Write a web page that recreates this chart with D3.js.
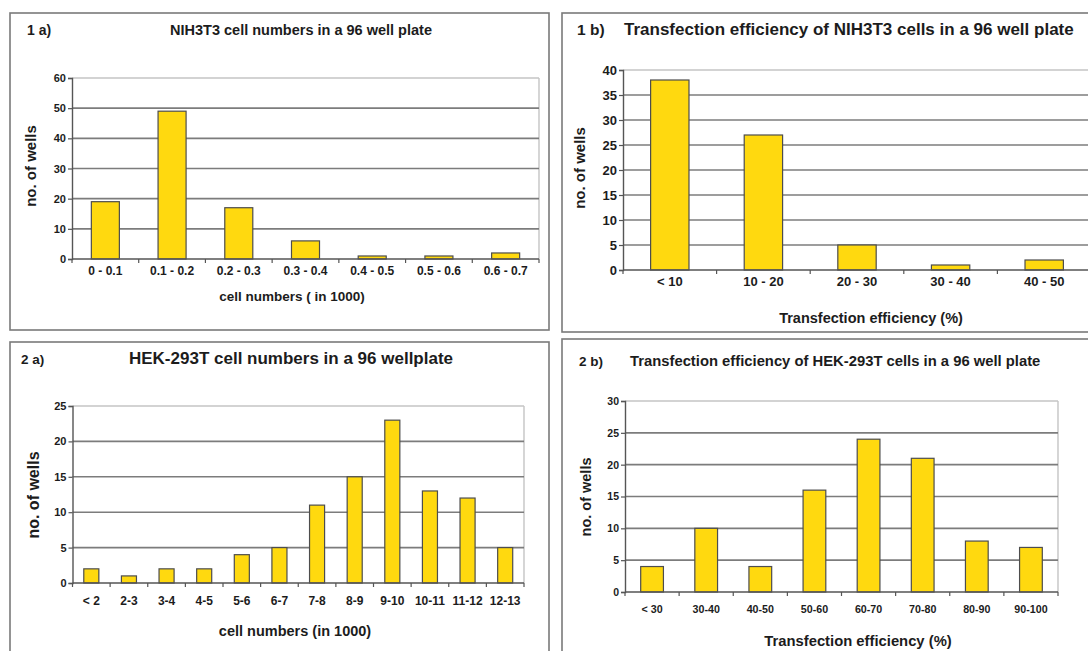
<!DOCTYPE html>
<html>
<head>
<meta charset="utf-8">
<script src="https://cdn.jsdelivr.net/npm/d3@7"></script>
<style>
  html, body { margin: 0; padding: 0; background: #fff; }
  svg { display: block; }
  text { font-family: "Liberation Sans", Arial, sans-serif; font-weight: bold; fill: #1c1c1c; }
</style>
</head>
<body>
<svg id="chart" width="1088" height="651"></svg>
<script>
// Panel 1a: NIH3T3 cell counts per well
const nihCountBins = ["0 - 0.1", "0.1 - 0.2", "0.2 - 0.3", "0.3 - 0.4", "0.4 - 0.5", "0.5 - 0.6", "0.6 - 0.7"];
const nihCountWells = [19, 49, 17, 6, 1, 1, 2];
const nihCountTicks = [0, 10, 20, 30, 40, 50, 60];

// Panel 1b: NIH3T3 transfection efficiency
const nihEffBins = ["< 10", "10 - 20", "20 - 30", "30 - 40", "40 - 50"];
const nihEffWells = [38, 27, 5, 1, 2];
const nihEffTicks = [0, 5, 10, 15, 20, 25, 30, 35, 40];

// Panel 2a: HEK-293T cell counts per well
const hekCountBins = ["< 2", "2-3", "3-4", "4-5", "5-6", "6-7", "7-8", "8-9", "9-10", "10-11", "11-12", "12-13"];
const hekCountWells = [2, 1, 2, 2, 4, 5, 11, 15, 23, 13, 12, 5];
const hekCountTicks = [0, 5, 10, 15, 20, 25];

// Panel 2b: HEK-293T transfection efficiency
const hekEffBins = ["< 30", "30-40", "40-50", "50-60", "60-70", "70-80", "80-90", "90-100"];
const hekEffWells = [4, 10, 4, 16, 24, 21, 8, 7];
const hekEffTicks = [0, 5, 10, 15, 20, 25, 30];

const svg = d3.select("#chart");

function drawPanel(p) {
  const g = svg.append("g");

  // panel frame
  g.append("rect")
    .attr("x", p.frame[0]).attr("y", p.frame[1])
    .attr("width", p.frame[2]).attr("height", p.frame[3])
    .attr("fill", "none").attr("stroke", "#7a7a7a").attr("stroke-width", 1.6);

  const x = d3.scaleBand().domain(p.bins).range([p.plot.l, p.plot.r]).padding(0);
  const yMax = p.ticks[p.ticks.length - 1];
  const y = d3.scaleLinear().domain([0, yMax]).range([p.plot.b, p.plot.t]);

  // plot area right border
  g.append("line")
    .attr("x1", p.plot.r).attr("x2", p.plot.r)
    .attr("y1", p.plot.t).attr("y2", p.plot.b)
    .attr("stroke", "#c4c4c4").attr("stroke-width", 1.4);

  // horizontal gridlines
  g.selectAll(".grid").data(p.ticks.filter(t => t > 0)).join("line")
    .attr("x1", p.plot.l).attr("x2", p.plot.r)
    .attr("y1", d => y(d)).attr("y2", d => y(d))
    .attr("stroke", d => d === yMax ? "#c4c4c4" : "#7c7c7c")
    .attr("stroke-width", 1.6);

  // bars
  const bw = x.bandwidth() * p.barRatio;
  g.selectAll(".bar").data(p.values).join("rect")
    .attr("x", (d, i) => x(p.bins[i]) + (x.bandwidth() - bw) / 2)
    .attr("y", d => y(d))
    .attr("width", bw)
    .attr("height", d => y(0) - y(d))
    .attr("fill", "#ffd90f")
    .attr("stroke", "#4d4d4d")
    .attr("stroke-width", 1.2);

  // y axis
  const yAxis = d3.axisLeft(y).tickValues(p.ticks).tickSize(4).tickPadding(2).tickFormat(d3.format("d"));
  const ya = g.append("g").attr("transform", `translate(${p.plot.l},0)`).call(yAxis);
  ya.select(".domain").attr("stroke", "#555").attr("stroke-width", 1.4);
  ya.selectAll(".tick line").attr("stroke", "#555").attr("stroke-width", 1.2);
  ya.selectAll(".tick text").style("font-size", p.yFont + "px").attr("fill", "#1c1c1c");

  // x axis: line along zero with ticks between categories
  g.append("line")
    .attr("x1", p.plot.l).attr("x2", p.plot.r)
    .attr("y1", y(0)).attr("y2", y(0))
    .attr("stroke", "#555").attr("stroke-width", 1.4);
  const bounds = p.bins.map(b => x(b)).concat([p.plot.r]);
  g.selectAll(".xt").data(bounds).join("line")
    .attr("x1", d => d).attr("x2", d => d)
    .attr("y1", y(0)).attr("y2", y(0) + 4)
    .attr("stroke", "#555").attr("stroke-width", 1.2);
  g.selectAll(".xl").data(p.bins).join("text")
    .attr("x", d => x(d) + x.bandwidth() / 2)
    .attr("y", p.xTickY)
    .attr("text-anchor", "middle")
    .attr("dominant-baseline", "middle")
    .style("font-size", p.xFont + "px")
    .text(d => d);

  // titles and axis labels
  g.append("text").attr("x", p.tag[0]).attr("y", p.tag[1])
    .attr("dominant-baseline", "middle").style("font-size", p.tagFont + "px").text(p.tagText);
  g.append("text").attr("x", p.title[0]).attr("y", p.title[1])
    .attr("text-anchor", p.titleAnchor).attr("dominant-baseline", "middle")
    .style("font-size", p.titleFont + "px").text(p.titleText);
  g.append("text").attr("x", p.xLabel[0]).attr("y", p.xLabel[1])
    .attr("text-anchor", "middle").attr("dominant-baseline", "middle")
    .style("font-size", p.xLabelFont + "px").text(p.xLabelText);
  g.append("text")
    .attr("transform", `translate(${p.yLabel[0]},${p.yLabel[1]}) rotate(-90)`)
    .attr("text-anchor", "middle").attr("dominant-baseline", "middle")
    .style("font-size", p.yLabelFont + "px").text("no. of wells");
}

drawPanel({
  frame: [10, 13, 539, 317],
  plot: { l: 72, t: 78, r: 539, b: 259 },
  bins: nihCountBins, values: nihCountWells, ticks: nihCountTicks, barRatio: 0.42,
  yFont: 11, xFont: 12, xTickY: 272,
  tag: [27, 31], tagText: "1 a)", tagFont: 14,
  title: [301, 31], titleText: "NIH3T3 cell numbers in a 96 well plate", titleAnchor: "middle", titleFont: 14.5,
  xLabel: [292, 297], xLabelText: "cell numbers ( in 1000)", xLabelFont: 13.5,
  yLabel: [32, 166], yLabelFont: 15
});

drawPanel({
  frame: [562, 13, 540, 319],
  plot: { l: 623, t: 70, r: 1091, b: 270 },
  bins: nihEffBins, values: nihEffWells, ticks: nihEffTicks, barRatio: 0.41,
  yFont: 13, xFont: 13, xTickY: 283,
  tag: [577, 31], tagText: "1 b)", tagFont: 15.5,
  title: [624, 31], titleText: "Transfection efficiency of NIH3T3 cells in a 96 well plate", titleAnchor: "start", titleFont: 17,
  xLabel: [871, 319], xLabelText: "Transfection efficiency (%)", xLabelFont: 14.5,
  yLabel: [581, 168], yLabelFont: 15
});

drawPanel({
  frame: [10, 342, 539, 330],
  plot: { l: 72.5, t: 406, r: 524, b: 583 },
  bins: hekCountBins, values: hekCountWells, ticks: hekCountTicks, barRatio: 0.4,
  yFont: 11, xFont: 12, xTickY: 602,
  tag: [21, 360], tagText: "2 a)", tagFont: 13.5,
  title: [291, 360], titleText: "HEK-293T cell numbers in a 96 wellplate", titleAnchor: "middle", titleFont: 17,
  xLabel: [295, 632], xLabelText: "cell numbers (in 1000)", xLabelFont: 14.5,
  yLabel: [35, 495], yLabelFont: 16
});

drawPanel({
  frame: [562, 339, 540, 330],
  plot: { l: 625, t: 401, r: 1058, b: 592 },
  bins: hekEffBins, values: hekEffWells, ticks: hekEffTicks, barRatio: 0.42,
  yFont: 10.5, xFont: 10.7, xTickY: 610,
  tag: [579, 362], tagText: "2 b)", tagFont: 13.5,
  title: [630, 362], titleText: "Transfection efficiency of HEK-293T cells in a 96 well plate", titleAnchor: "start", titleFont: 14.8,
  xLabel: [858, 642], xLabelText: "Transfection efficiency (%)", xLabelFont: 14.8,
  yLabel: [587, 497], yLabelFont: 14.5
});
</script>
</body>
</html>
